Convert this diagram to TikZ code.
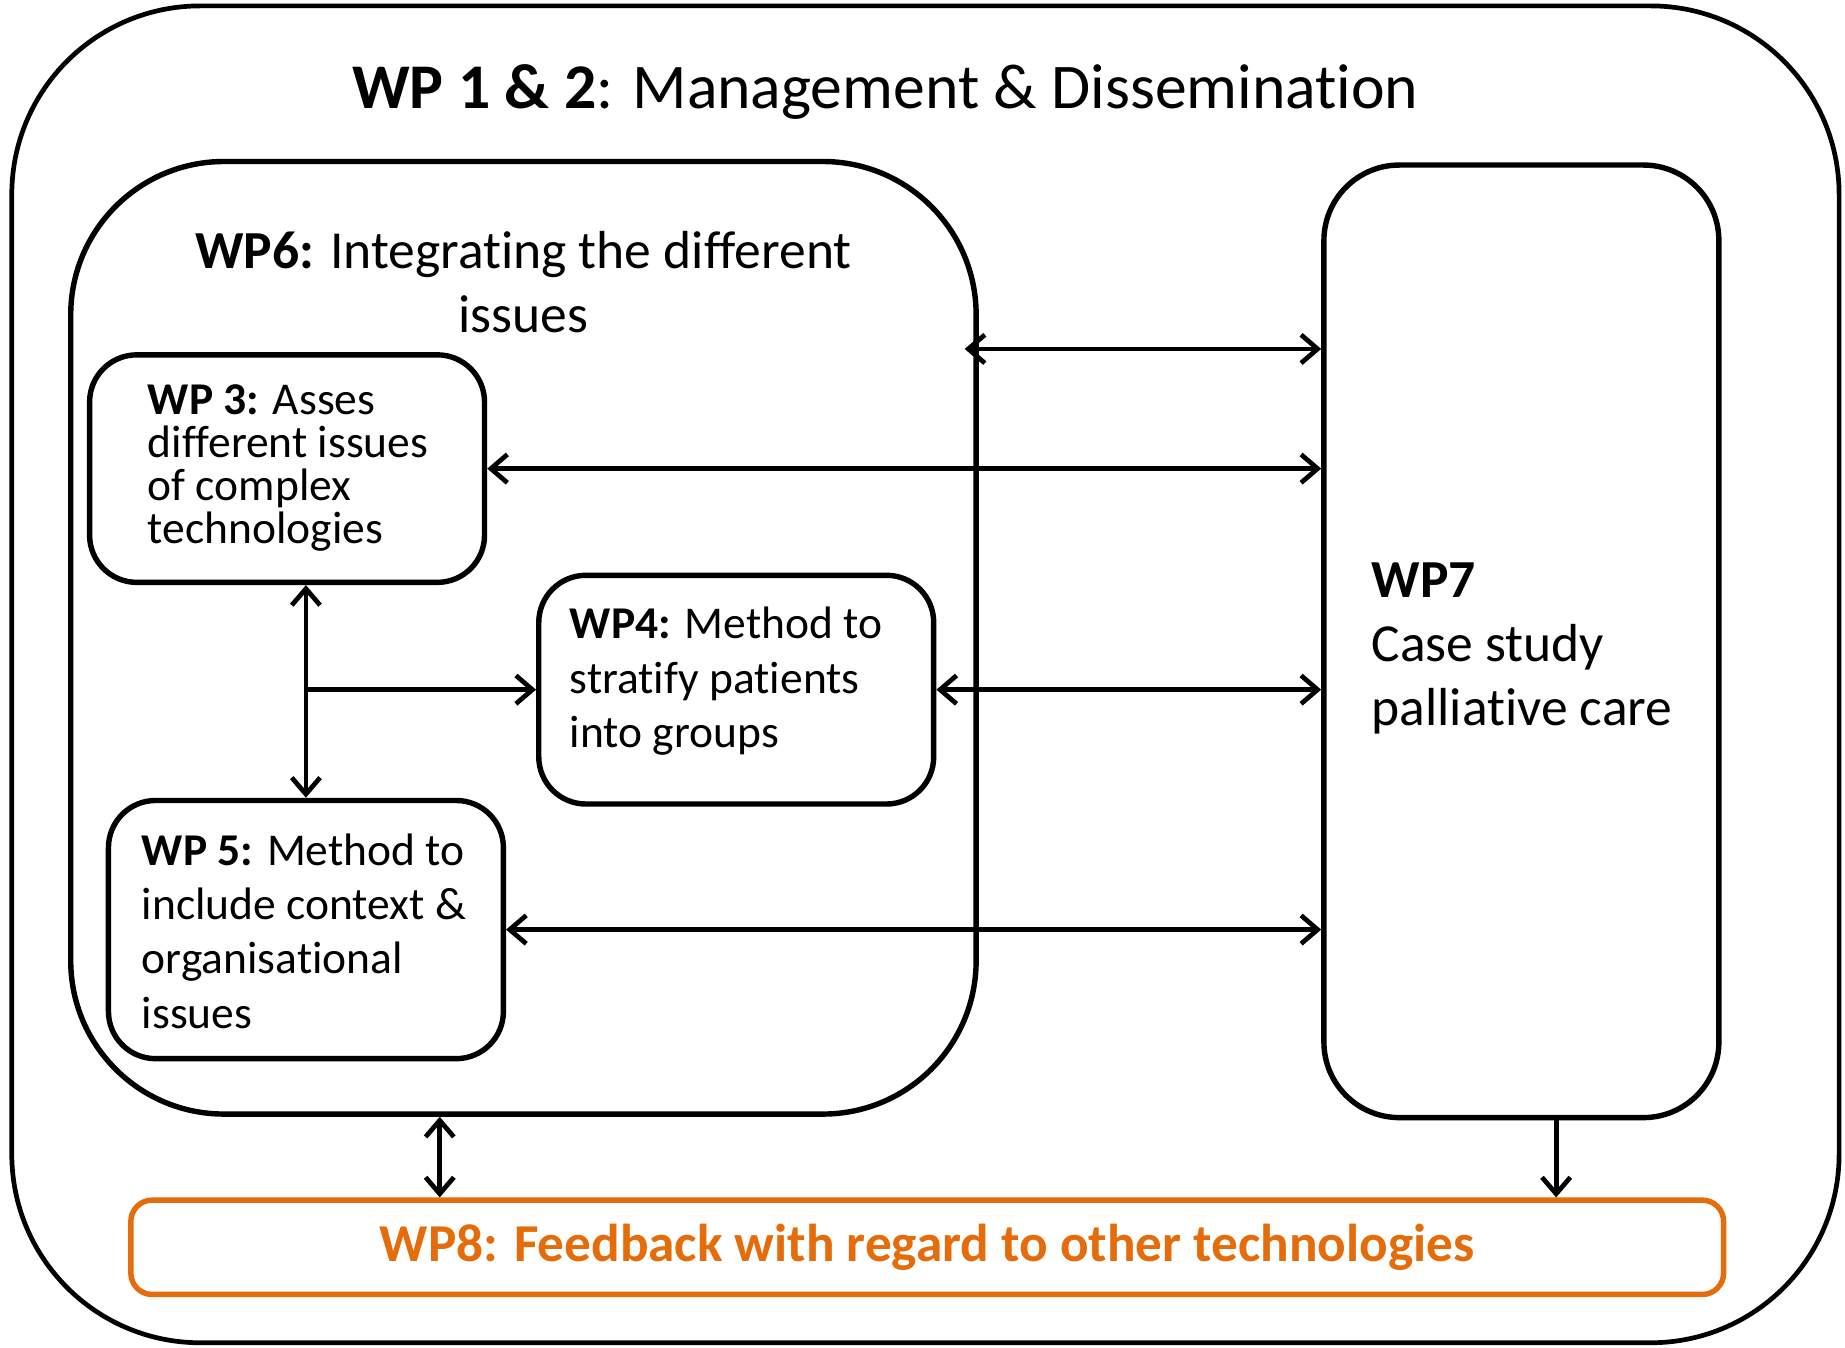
\documentclass[tikz,border=0pt]{standalone}
\usepackage{fontspec}
\setmainfont{Carlito}[Ligatures=NoCommon]
\usetikzlibrary{arrows.meta,calc}
\definecolor{wporange}{RGB}{228,108,10}
\begin{document}
\begin{tikzpicture}[x=0.5pt,y=-0.5pt,
  box/.style={draw, line width=2.3pt, rounded corners=20pt, inner sep=0pt},
  lbl/.style={inner sep=0pt, align=left, anchor=base west},
  link/.style={line width=2pt, {Straight Barb[length=7pt,width=12pt]}-{Straight Barb[length=7pt,width=12pt]}},
  onearrow/.style={line width=2pt, -{Straight Barb[length=7pt,width=12pt]}}]
\useasboundingbox (0,0) rectangle (1565,1143);
% boxes
\node[box, line width=2pt, rounded corners=80pt, minimum width=775pt, minimum height=567pt] (outer) at (785,572) {};
\node[box, rounded corners=65pt, minimum width=384pt, minimum height=404pt] (wp6) at (444,541) {};
\node[box, rounded corners=32pt, minimum width=167.5pt, minimum height=404pt] (wp7) at (1290.5,544) {};
\node[box, minimum width=167.5pt, minimum height=96.5pt] (wp3) at (243.5,397.5) {};
\node[box, minimum width=167.5pt, minimum height=97pt] (wp4) at (624.5,585) {};
\node[box, minimum width=167.5pt, minimum height=109.5pt] (wp5) at (259.5,788.5) {};
\node[box, draw=wporange, rounded corners=9pt, minimum width=675.5pt, minimum height=40pt,
  text=wporange, font=\fontsize{22.6}{28}\selectfont\bfseries] (wp8) at (786.5,1058)
  {WP8: Feedback with regard to other technologies};
% texts (anchored at the baseline of the last line)
\node[inner sep=0pt, anchor=base, font=\fontsize{27}{34}\selectfont] (title) at (751,92)
  {\textbf{WP 1 \& 2}: Management \& Dissemination};
\node[inner sep=0pt, align=center, anchor=base, font=\fontsize{22.7}{27}\selectfont] (wp6t) at (444,282)
  {\textbf{WP6:} Integrating the different\\issues};
\node[lbl, font=\fontsize{19.3}{18.25}\selectfont] (wp3t) at (125,461)
  {\textbf{WP 3:} Asses\\different issues\\of complex\\technologies};
\node[lbl, font=\fontsize{19.3}{23}\selectfont] (wp4t) at (483,634)
  {\textbf{WP4:} Method to\\stratify patients\\into groups};
\node[lbl, font=\fontsize{19.3}{23}\selectfont] (wp5t) at (120,872)
  {\textbf{WP 5:} Method to\\include context \&\\organisational\\issues};
\node[lbl, font=\fontsize{22.7}{27}\selectfont] (wp7t) at (1163,615)
  {\textbf{WP7}\\Case study\\palliative care};
% helper coordinates
\coordinate (r1) at (0,296);
\coordinate (c7) at (373,0);
\coordinate (c8) at (1320,0);
\coordinate (j) at (wp5.north |- wp4.west);
% connectors
\draw[link, shorten <=-6pt] (wp6.east |- r1) -- (wp7.west |- r1);
\draw[link] (wp3.east) -- (wp7.west |- wp3.east);
\draw[link] (wp4.east) -- (wp7.west |- wp4.east);
\draw[link] (wp5.east) -- (wp7.west |- wp5.east);
\draw[link] (wp5.north |- wp3.south) -- (wp5.north);
\draw[onearrow] (j) -- (wp4.west);
\draw[link] (c7 |- wp6.south) -- (c7 |- wp8.north);
\draw[onearrow] (c8 |- wp7.south) -- (c8 |- wp8.north);
\end{tikzpicture}
\end{document}
